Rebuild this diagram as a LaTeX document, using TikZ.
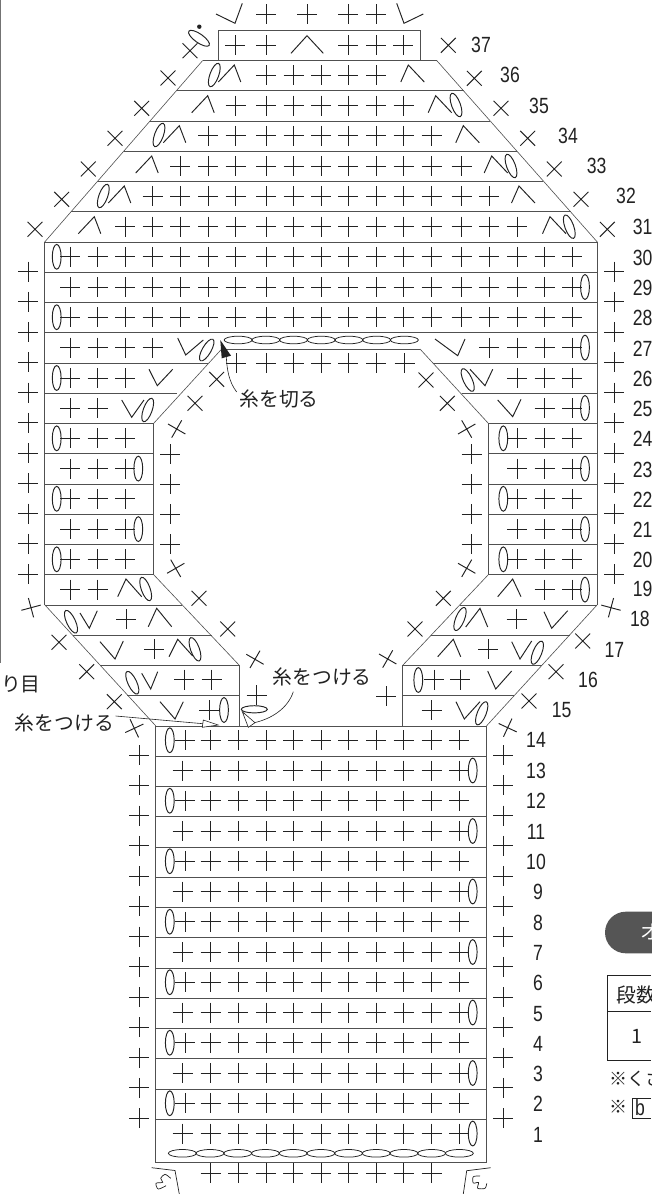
\documentclass[tikz,border=0pt]{standalone}
\usepackage{fontspec}
\setmainfont{Liberation Sans}
\newfontfamily\jpf{Noto Sans CJK JP}
\newfontfamily\numf[FakeStretch=0.8]{Liberation Sans}
\definecolor{ink}{HTML}{222222}
\definecolor{frame}{HTML}{505050}
\definecolor{pill}{HTML}{555555}
\tikzset{
 st/.style={line width=0.95pt,draw=ink,line cap=butt,line join=miter},
 frm/.style={line width=0.85pt,draw=frame},
 thin frm/.style={line width=0.6pt,draw=frame},
 lab/.style={inner sep=0pt,font=\jpf\fontsize{19.8pt}{21pt}\selectfont,text=ink},
 num/.style={inner sep=0pt,font=\numf\fontsize{22pt}{24pt}\selectfont,text=ink},
 lead/.style={line width=0.6pt,draw=ink}
}
\newcommand\Pl[3][0]{\draw[st,shift={(#2,#3)},rotate=#1] (-10,0)--(10,0) (0,-10)--(0,10);}
\newcommand\Xx[3][45]{\draw[st,shift={(#2,#3)},rotate=#1] (-10.5,0)--(10.5,0) (0,-10.5)--(0,10.5);}
\newcommand\Ov[3][0]{\draw[st,shift={(#2,#3)},rotate=#1] (0,0) ellipse[x radius=4.4,y radius=12.4];}
\newcommand\Rw[2]{\edef\qL{#2}\foreach \qx in \qL {\Pl{\qx}{#1}}}
\newcommand\Col[2]{\foreach \qz in {#2}{\Pl{#1}{\qz}}}
\newcommand\CapL[2]{\draw[st] (#1-16,#2+17)--(#1,#2)--(#1+6.5,#2+17);}
\newcommand\CapR[2]{\draw[st] (#1-7.5,#2+17)--(#1,#2)--(#1+16,#2+17);}
\newcommand\Lnk[3]{\foreach \qi in {1,...,#3}{\draw[st,line width=0.75pt] (#1+27.7*\qi-13.85,#2) ellipse[x radius=14,y radius=3.8];}}
\begin{document}
\begin{tikzpicture}[x=1pt,y=-1pt]
\useasboundingbox (0,0) rectangle (651,1194);
\fill[white] (0,0) rectangle (651,1194);
% page rule at far left
\draw[line width=1pt,draw=frame!80] (0.5,0)--(0.5,663);
% ---- frame
\draw[frm] (218,60.5)--(218,30.3)--(420.7,30.3)--(420.7,60.5);
\draw[thin frm] (44.7,242)--(202.7,60.5) (436.7,60.5)--(597.3,242)
  (597.3,604.7)--(486.7,725.7) (155.6,725.7)--(44.7,604.7)
  (420,349)--(488.3,423.3) (488.3,574.7)--(402.7,665.3)
  (239.3,665.3)--(153.7,574.7) (153.7,423.3)--(221.7,349);
\draw[frm] (202.7,60.5)--(436.7,60.5)
  (597.3,242)--(597.3,604.7) (486.7,725.7)--(486.7,1162)--(155.6,1162)--(155.6,725.7)
  (44.7,604.7)--(44.7,242)
  (221.7,349)--(420,349) (488.3,423.3)--(488.3,574.7) (402.7,665.3)--(402.7,725.7)
  (239.3,725.7)--(239.3,665.3) (153.7,574.7)--(153.7,423.3);
\draw[frm] (177,90.8)--(463.5,90.8) (150,121)--(490.3,121) (124,151.3)--(516.7,151.3)
  (98,181.5)--(543,181.5) (71,211.8)--(570.7,211.8) (44.7,242)--(597.3,242);
\foreach \qy in {272.3,302.5,332.8}{\draw[frm] (44.7,\qy)--(597.3,\qy);}
\draw[frm] (44.7,363)--(208,363) (433,363)--(597.3,363)
  (44.7,393.3)--(177,393.3) (461.7,393.3)--(597.3,393.3);
\foreach \qy in {423.5,453.8,484,514.3,544.5,574.8}{\draw[frm] (44.7,\qy)--(153.7,\qy) (488.3,\qy)--(597.3,\qy);}
\draw[frm] (44.7,605)--(181.7,605) (460,605)--(597.3,605)
  (73,635.3)--(211.7,635.3) (431,635.3)--(570,635.3)
  (100,665.5)--(239.3,665.5) (402.7,665.5)--(541.7,665.5)
  (127,695.8)--(239.3,695.8) (402.7,695.8)--(514,695.8);
\foreach \qk in {23,...,36}{\pgfmathsetmacro\qy{30.3+30.25*\qk}\draw[frm] (155.6,\qy)--(486.7,\qy);}
% ---- top row
\draw[st] (216,14)--(235,23.3)--(242.3,3.3);
\Rw{14}{266,307,348.3,376}
\draw[st] (396.7,3.3)--(404,23.3)--(423.3,14);
% ---- row 37
\Rw{45}{235.3,266,348.3,376,403.3}
\draw[st] (291,53.3)--(307,35.7)--(323.3,53.3);
\Xx[45]{190}{50.7}
\Ov[55]{199}{38.3}
\fill[ink] (199.3,26.7) circle (2.2);
% ---- decreases upper rows
\Rw{75.3}{266,293.7,321.3,348.3,376}
\CapL{234.3}{65}\Ov[-20]{214.3}{75}\CapR{408.3}{65}
\Rw{105.6}{235.7,266,293.7,321.3,348.3,376,403.7}
\CapL{207.7}{95.7}\CapR{435.7}{95.7}\Ov[20]{456}{105}
\Rw{135.8}{208,235.7,266,293.7,321.3,348.3,376,403.7,431.7}
\CapL{179.3}{125.7}\Ov[-20]{159}{135}\CapR{463.3}{125.7}
\Rw{166}{180.3,208,235.7,266,293.7,321.3,348.3,376,403.7,431.7,461.7}
\CapL{151.7}{156}\CapR{491.7}{156}\Ov[20]{511}{166}
\Rw{196.3}{152.7,180.3,208,235.7,266,293.7,321.3,348.3,376,403.7,431.7,461.7,489.3}
\CapL{124.3}{186}\Ov[-20]{103.3}{196}\CapR{519}{186}
\Rw{226.6}{125,152.7,180.3,208,235.7,266,293.7,321.3,348.3,376,403.7,431.7,461.7,489.3,517}
\CapL{94.3}{216.7}\CapR{550}{216.7}\Ov[20]{569.3}{226.7}
% ---- full rows
\def\qG{70,97.5,125,152.7,180.3,208,235.7,266,293.7,321.3,348.3,376,403.7,431.7,461.7,489.3,517,544.7,572.3}
\Rw{256.8}{\qG}\Ov{56.7}{256.8}
\Rw{287}{\qG}\Ov{585}{287}
\Rw{317.2}{\qG}\Ov{56.7}{317.2}
% ---- row 27
\Rw{347.6}{70,97.5,125,152.7,489.3,517,544.7,572.3}
\draw[st] (177.7,338)--(185.7,355)--(203.3,340);
\Ov[-30]{206.7}{350}
\Lnk{224.3}{340}{7}
\Rw{363.3}{236,266,293.7,321.3,348.3,376,404.5}
\draw[st] (435,339)--(457.7,355.7)--(465,339);
\Ov{585}{347.6}
% ---- row 26
\Rw{378}{70,97.5,125,517,544.7,572.3}\Ov{56.7}{378}
\draw[st] (149,369.3)--(157.3,385.7)--(172.7,369.3);
\Ov[25]{467.7}{380}
\draw[st] (470,369.3)--(485,385.7)--(492.7,369.3);
% ---- row 25
\Rw{408}{70,97.5,544.7,572.3}\Ov{585}{408}
\draw[st] (121.7,400)--(131.7,417.3)--(144,400);
\Ov[-20]{147.7}{410}
\draw[st] (497.7,400)--(512.7,416.7)--(521,399.3);
% ---- rows 24..20
\foreach \qy in {438.3,498.8,559.3}{\Rw{\qy}{70,97.5,125,517,544.7,572.3}\Ov{56.7}{\qy}\Ov{503.3}{\qy}}
\foreach \qy in {468.6,529.1}{\Rw{\qy}{70,97.5,125,517,544.7,572.3}\Ov{138.3}{\qy}\Ov{585}{\qy}}
% ---- row 19
\Rw{589.6}{70,97.5,544.7,572.3}\Ov{585}{589.6}
\draw[st] (117.7,596.7)--(126,579)--(141.7,596.7);
\Ov[20]{145.7}{589}
\draw[st] (497.7,596.7)--(512.7,579)--(521,596.7);
% ---- row 18
\Ov[25]{71}{621.7}
\draw[st] (80,613)--(89.3,628.3)--(97.3,610.7);
\Pl{126}{619.3}
\draw[st] (148.3,626.7)--(156.7,608.3)--(171.7,626.7);
\Ov[-22]{460}{619}
\draw[st] (465.7,627)--(480,608.3)--(487.7,627);
\Pl{516.7}{619.3}
\draw[st] (544,611.7)--(551.7,628.3)--(567.7,610.7);
% ---- row 17
\draw[st] (100,641.7)--(115,659)--(123.3,641);
\Pl{154.3}{649.3}
\draw[st] (169,656.7)--(177.7,639.3)--(192.7,656);
\Ov[20]{195}{649.3}
\draw[st] (437.7,656.7)--(453.3,639.3)--(460.7,656.7);
\Pl{488.3}{649.3}
\draw[st] (511.7,641.7)--(520,659)--(531.7,641);
\Ov[-22]{537.3}{652.7}
% ---- row 16
\Ov[25]{132.3}{682.7}
\draw[st] (141.7,673.3)--(150.7,689)--(157.7,671.7);
\Rw{679.5}{184.3,211.7,434,460}
\Ov{418.3}{680}
\draw[st] (487.7,671)--(495.7,689)--(511.7,671);
% ---- row 15
\draw[st] (160,701.7)--(175,719)--(183.3,701.7);
\Rw{710}{209.3,431.7}
\Ov{224}{710}
\draw[st] (456,701.7)--(464.3,719)--(480,701.7);
\Ov[-22]{481.7}{713.3}
% ---- main rows
\def\qM{210.7,238.3,266,293.3,321,348.3,376,403.7,431.7,459.3}
\foreach \qr in {1,...,14}{
  \pgfmathsetmacro\qy{30.3+30.25*(37-\qr)+14.2}
  \Rw{\qy}{\qM}
  \ifodd\qr\relax \Pl{182.7}{\qy}\Ov{472.7}{\qy}\else \Pl{185}{\qy}\Ov{169.8}{\qy}\fi
}
\Lnk{168.5}{1153.3}{11}
\Rw{1173.3}{210.7,238.3,266,293.3,321,348.3,376,403.7,431.7}
% ---- corner marks
\draw[st,line width=0.7pt] (151.7,1167.7)--(175,1170.5)--(179.3,1194);
\draw[st,line width=0.7pt] (490.7,1167.7)--(466.7,1170.7)--(463.3,1194);
\draw[st,line width=0.7pt] plot[smooth] coordinates {(170.7,1178.3)(165,1174.3)(160.7,1178.3)(162.7,1182.3)(156,1183.3)(158.3,1189)(166,1185.7)};
\draw[st,line width=0.7pt] plot[smooth] coordinates {(480,1176)(473.3,1176.7)(473.3,1183)(478.5,1182.5)(477.7,1188.3)(485,1188.3)(486.7,1183.3)};
% ---- side stitches
\foreach \qn in {0,...,10}{\pgfmathsetmacro\qy{271.7+30.25*\qn}\Pl{28.3}{\qy}\Pl{614}{\qy}}
\Col{170}{454,484,514,544.3}
\Col{471.7}{454,484,514,544.3}
\foreach \qn in {0,...,12}{\pgfmathsetmacro\qy{755+30.25*\qn}\Pl{139}{\qy}\Pl{503}{\qy}}
\foreach \qa/\qb in {168/78,141.7/108.3,115/138.3,88.3/169,61.7/199.3,35/229.3,
  448.3/45.3,474.3/78.3,501/108.3,527.7/138.3,554.3/169,581/199.3,607.3/229.3,
  216.7/379.3,195/403.3,426/380,447.3/403.3,
  199/598.3,227.7/629,443.3/598.3,415/629,
  59/642.3,86.7/671.7,114.3/701.7,529/701,556/671.7,582.7/641}{\Xx{\qa}{\qb}}
\Pl[15]{31}{607.7}\Pl[-15]{611}{607.7}
\Pl[-30]{176.7}{429}\Pl[30]{175.7}{568.3}
\Pl[30]{466.7}{429}\Pl[-30]{466.7}{568.3}
\Pl[-30]{255}{659.3}\Pl[-30]{387.7}{659}
\Pl{256.7}{695}\Pl{386}{696}
\Pl[25]{134.3}{728.3}\Pl[-25]{507.7}{727.7}
\draw[st] (254.3,709.3) ellipse[x radius=13,y radius=3.6];
% ---- numbers
\foreach \qa/\qb/\qt in {481/45/37,510/75/36,539/106/35,568/136/34,596.7/166/33,626/196/32,
  614.3/650/17,588/680/16,561.7/710/15,
  536/740/14,536/771/13,536/801/12,536/832/11,536/862/10,
  538/892/9,538/923/8,538/953/7,538/983/6,538/1014/5,538/1044/4,538/1074/3,538/1104/2,538/1135/1}
 {\node[num] (n\qt) at (\qa,\qb) {\qt};}
\foreach \qb/\qt in {227/31,258/30,288/29,318/28,349/27,379/26,409/25,439/24,470/23,500/22,530/21,560/20,589/19}
 {\node[num,anchor=west] (n\qt) at (632.7,\qb) {\qt};}
\node[num,anchor=west] (n18) at (630,619) {18};
% ---- labels and leaders
\node[lab] (cut) at (279,399) {糸を切る};
\coordinate (cuttip) at (220.3,340);
\draw[lead] (236.7,392) .. controls (229,382) and (227,370) .. (226.3,357);
\fill[ink] (cuttip)--(231,355.7)--(221.7,358.3)--cycle;
\node[lab] (joinA) at (322.2,677.3) {糸をつける};
\coordinate (joinAtip) at (242.3,711.7);
\draw[lead] (293.3,691.7) .. controls (288,708) and (272,719) .. (253,723);
\draw[lead,fill=white] (joinAtip)--(248.3,727.3)--(255,722.7)--cycle;
\node[lab] (joinB) at (64.3,723.3) {糸をつける};
\coordinate (joinBtip) at (218.3,725);
\draw[lead] (115.7,716)--(203,723.7);
\draw[lead,fill=white] (joinBtip)--(203.3,720)--(202.3,727.3)--cycle;
\node[lab,anchor=east] (kuri) at (41,684.3) {くり目};
% ---- cut-off legend at the right
\fill[pill,rounded corners=20.8pt] (605,911.7) rectangle (690,953.3);
\node[lab,text=white,anchor=west] (ttl) at (640,932) {オ};
\draw[line width=1pt,draw=ink] (651,975)--(607.7,975)--(607.7,1060)--(651,1060);
\draw[line width=0.6pt,draw=ink] (607.7,1011.7)--(651,1011.7);
\node[lab,anchor=west] (dan) at (616,995) {段数};
\node[lab] (one) at (636.7,1036.7) {1};
\node[lab,anchor=west,font=\jpf\fontsize{18pt}{19pt}\selectfont] (noteA) at (609,1079) {※くさ};
\node[lab,anchor=west,font=\jpf\fontsize{18pt}{19pt}\selectfont] (noteB) at (609,1107) {※};
\draw[line width=0.7pt,draw=ink] (651,1098)--(632,1098)--(632,1118)--(651,1118);
\node[lab,anchor=west,font=\numf\fontsize{22pt}{24pt}\selectfont] (noteC) at (635,1107.5) {b};
\end{tikzpicture}
\end{document}
